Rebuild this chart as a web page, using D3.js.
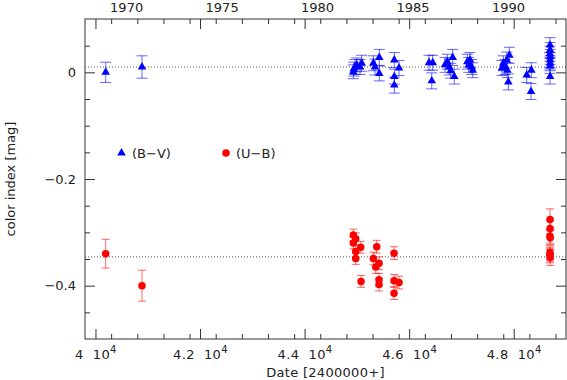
<!DOCTYPE html>
<html>
<head>
<meta charset="utf-8">
<script src="https://cdn.jsdelivr.net/npm/d3@7"></script>
<style>
  body { margin: 0; background: #fff; }
  text { font-family: "DejaVu Sans", sans-serif; font-size: 13px; fill: #222; }
  .axis path { display: none; }
  .axis line { stroke: #333; }
</style>
</head>
<body>
<svg id="chart" width="567" height="380"></svg>
<script>
// B-V colour index: date (JD-2400000), value, error
const bvDate = [40196, 40890,
  44932, 44940, 44965, 44997, 45060, 45093,
  45315, 45347, 45429, 45429,
  45716, 45806, 45716, 45716,
  46380, 46451, 46432,
  46686, 46730, 46768, 46795, 46833, 46864,
  47113, 47139, 47164, 47197, 47216,
  47776, 47801, 47834, 47866, 47878, 47897, 47916,
  48249, 48337, 48331,
  48694, 48696, 48692, 48698, 48694, 48696, 48694, 48696];
const bvVal = [0.000, 0.010,
  0.001, 0.006, 0.010, 0.014, 0.010, 0.017,
  0.017, 0.010, 0.028, -0.002,
  0.023, 0.008, -0.008, -0.024,
  0.018, 0.018, -0.016,
  0.014, 0.020, 0.010, 0.003, 0.028, -0.008,
  0.020, 0.014, 0.023, 0.010, 0.004,
  0.008, 0.017, 0.010, 0.023, 0.004, -0.018, 0.032,
  -0.005, 0.004, -0.036,
  0.051, 0.042, 0.035, 0.029, 0.023, 0.017, 0.012, -0.008];
const bvErr = [0.019, 0.021,
  0.013, 0.013, 0.014, 0.013, 0.014, 0.015,
  0.014, 0.015, 0.015, 0.014,
  0.014, 0.014, 0.014, 0.015,
  0.014, 0.014, 0.015,
  0.014, 0.014, 0.015, 0.014, 0.015, 0.014,
  0.014, 0.014, 0.014, 0.014, 0.014,
  0.014, 0.014, 0.014, 0.015, 0.014, 0.015, 0.015,
  0.014, 0.014, 0.015,
  0.014, 0.014, 0.014, 0.014, 0.014, 0.014, 0.014, 0.014];

// U-B colour index
const ubDate = [40196, 40890,
  44932, 44978, 44932, 45074, 44978, 44978, 45080,
  45380, 45315, 45361, 45424, 45424, 45424,
  45711, 45711, 45806, 45711,
  48694, 48696, 48692, 48698, 48694, 48696, 48692, 48698];
const ubVal = [-0.340, -0.400,
  -0.305, -0.312, -0.320, -0.328, -0.336, -0.349, -0.392,
  -0.327, -0.349, -0.365, -0.358, -0.389, -0.398,
  -0.339, -0.391, -0.394, -0.414,
  -0.276, -0.293, -0.307, -0.310, -0.338, -0.341, -0.344, -0.347];
const ubErr = [0.027, 0.029,
  0.011, 0.011, 0.011, 0.011, 0.011, 0.011, 0.011,
  0.012, 0.012, 0.012, 0.012, 0.012, 0.012,
  0.012, 0.012, 0.012, 0.012,
  0.020, 0.015, 0.013, 0.013, 0.013, 0.013, 0.013, 0.015];

// mean levels (dotted lines)
const bvMean = 0.010;
const ubMean = -0.346;

const xMajor = [40000, 42000, 44000, 46000, 48000];
const yMajor = [-0.4, -0.2, 0];
const years = [1970, 1975, 1980, 1985, 1990];

const svg = d3.select('#chart');
const margin = { top: 19, right: 1, bottom: 41, left: 85 };
const width = +svg.attr('width') - margin.left - margin.right;
const height = +svg.attr('height') - margin.top - margin.bottom;

const x = d3.scaleLinear().domain([39800, 49000]).range([0, width]);
const y = d3.scaleLinear().domain([-0.5, 0.1]).range([height, 0]);

const g = svg.append('g')
  .attr('transform', 'translate(' + margin.left + ',' + margin.top + ')');

const xMinor = d3.range(39800, 49001, 500).filter(d => xMajor.indexOf(d) < 0 && d > 39800 && d < 49000);
const yMinor = d3.range(-9, 2).map(i => +(i * 0.05).toFixed(2)).filter(d => yMajor.indexOf(d) < 0);

// bottom axis
g.append('g').attr('class', 'axis').attr('transform', 'translate(0,' + height + ')')
  .call(d3.axisBottom(x).tickValues(xMajor).tickSize(-10).tickPadding(11).tickFormat(d => d))
  .selectAll('text').each(function(d) {
    const t = d3.select(this).text('').attr('letter-spacing', '0.4px');
    t.append('tspan').text(d3.format('.1f')(d / 1e4).replace('.0', '') + '\u00a0\u00a010');
    t.append('tspan').attr('font-size', '10px').attr('dy', '-0.6em').text('4');
  });
g.append('g').attr('class', 'axis').attr('transform', 'translate(0,' + height + ')')
  .call(d3.axisBottom(x).tickValues(xMinor).tickSize(-5).tickFormat(''));

// top axis: mirrored ticks + year labels
g.append('g').attr('class', 'axis')
  .call(d3.axisTop(x).tickValues(xMajor).tickSize(-10).tickFormat(''));
g.append('g').attr('class', 'axis')
  .call(d3.axisTop(x).tickValues(xMinor).tickSize(-5).tickFormat(''));
const yearJD = years.map(yr => Date.UTC(yr, 0, 1) / 86400000 + 40587);
g.append('g').attr('class', 'axis')
  .call(d3.axisTop(x).tickValues(yearJD).tickSize(0).tickPadding(7)
    .tickFormat((d, i) => years[i]));

// left axis
g.append('g').attr('class', 'axis')
  .call(d3.axisLeft(y).tickValues(yMajor).tickSize(-10).tickPadding(9)
    .tickFormat(d => d === 0 ? '0' : d3.format('.1f')(d)));
g.append('g').attr('class', 'axis')
  .call(d3.axisLeft(y).tickValues(yMinor).tickSize(-5).tickFormat(''));

// right axis
g.append('g').attr('class', 'axis').attr('transform', 'translate(' + width + ',0)')
  .call(d3.axisRight(y).tickValues(yMajor).tickSize(-10).tickFormat(''));
g.append('g').attr('class', 'axis').attr('transform', 'translate(' + width + ',0)')
  .call(d3.axisRight(y).tickValues(yMinor).tickSize(-5).tickFormat(''));

// frame
g.append('rect').attr('width', width).attr('height', height)
  .attr('fill', 'none').attr('stroke', '#333');

// axis titles
svg.append('text').attr('x', margin.left + width / 2).attr('y', 377)
  .attr('text-anchor', 'middle').attr('font-size', '14px').attr('letter-spacing', '0.3px')
  .text('Date [2400000+]');
svg.append('text').attr('transform', 'translate(15,' + (margin.top + height / 2) + ') rotate(-90)')
  .attr('text-anchor', 'middle').text('color index [mag]');

// mean lines
[bvMean, ubMean].forEach(m => {
  g.append('line').attr('x1', 0).attr('x2', width).attr('y1', y(m)).attr('y2', y(m))
    .attr('stroke', '#555').attr('stroke-dasharray', '1,2');
});

function series(dates, vals, errs, color, cap, symbol) {
  const data = dates.map((d, i) => ({ d: d, v: vals[i], e: errs[i] }));
  const eb = g.append('g').attr('stroke', color).attr('stroke-opacity', 0.6).attr('fill', 'none');
  data.forEach(p => {
    const cx = x(p.d), y1 = y(p.v + p.e), y2 = y(p.v - p.e);
    eb.append('line').attr('x1', cx).attr('x2', cx).attr('y1', y1).attr('y2', y2);
    eb.append('line').attr('x1', cx - cap).attr('x2', cx + cap).attr('y1', y1).attr('y2', y1);
    eb.append('line').attr('x1', cx - cap).attr('x2', cx + cap).attr('y1', y2).attr('y2', y2);
  });
  g.append('g').selectAll('path').data(data).join('path')
    .attr('transform', p => 'translate(' + x(p.d) + ',' + y(p.v) + ')')
    .attr('d', symbol).attr('fill', color);
}

const tri = d3.symbol().type(d3.symbolTriangle).size(32);
const dot = d3.symbol().type(d3.symbolCircle).size(44);

series(bvDate, bvVal, bvErr, '#0000ff', 5.5, tri);
series(ubDate, ubVal, ubErr, '#ff0000', 4, dot);

// legend
const leg = svg.append('g');
leg.append('path').attr('transform', 'translate(121.5,153)').attr('d', tri).attr('fill', '#0000ff');
leg.append('text').attr('x', 132).attr('y', 157.5).text('(B\u2212V)');
leg.append('path').attr('transform', 'translate(226,153)').attr('d', dot).attr('fill', '#ff0000');
leg.append('text').attr('x', 236).attr('y', 157.5).text('(U\u2212B)');
</script>
</body>
</html>
